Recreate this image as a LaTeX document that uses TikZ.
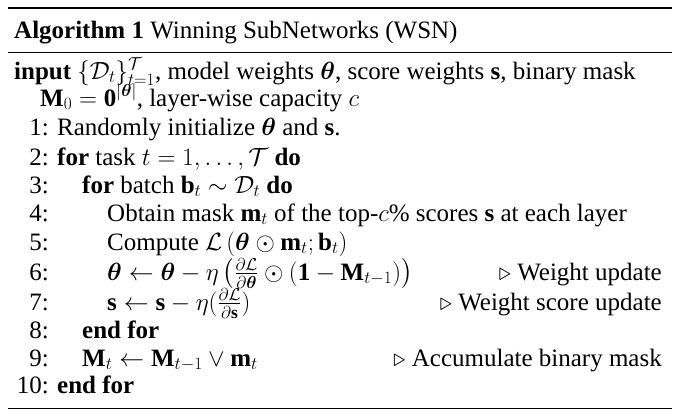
\documentclass[tikz,border=0pt]{standalone}
\usepackage{amsmath,amssymb,bm}
\usepackage{fontspec}
\setmainfont{Liberation Serif}
\begin{document}
\begin{tikzpicture}[x=1pt,y=-1pt,
  t/.style={anchor=base west,inner sep=0pt,font=\fontsize{25}{28}\selectfont},
  n/.style={anchor=base east,inner sep=0pt,font=\fontsize{25}{28}\selectfont},
  c/.style={anchor=base east,inner sep=0pt,font=\fontsize{25}{28}\selectfont}]
\useasboundingbox (0,0) rectangle (680,418);
\draw[line width=1.6] (8,8) -- (672,8);
\draw[line width=0.8] (8,52) -- (672,52);
\draw[line width=0.8] (8,408) -- (672,408);
\node[t] (title) at (14,38) {\textbf{Algorithm 1} Winning SubNetworks (WSN)};
\node[t] (in) at (14,79) {\textbf{input} $\{\mathcal{D}_t\}_{t=1}^{\mathcal{T}}$, model weights $\bm{\theta}$, score weights $\mathbf{s}$, binary mask};
\node[t] (in2) at (40,106) {$\mathbf{M}_0=\mathbf{0}^{|\bm{\theta}|}$, layer-wise capacity $c$};
\foreach \i/\y in {1/135,2/165,3/193,4/221,5/250,6/280,7/310,8/338,9/366,10/393}
  \node[n] (n\i) at (49,\y) {\i:};
\node[t] (l1) at (57,135) {Randomly initialize $\bm{\theta}$ and $\mathbf{s}$.};
\node[t] (l2) at (57,165) {\textbf{for} task $t=1,\ldots,\mathcal{T}$ \textbf{do}};
\node[t] (l3) at (82,193) {\textbf{for} batch $\mathbf{b}_t\sim\mathcal{D}_t$ \textbf{do}};
\node[t] (l4) at (107,221) {Obtain mask $\mathbf{m}_t$ of the top-$c\%$ scores $\mathbf{s}$ at each layer};
\node[t] (l5) at (107,250) {Compute $\mathcal{L}\left(\bm{\theta}\odot\mathbf{m}_t;\mathbf{b}_t\right)$};
\node[t] (l6) at (107,280) {$\bm{\theta}\leftarrow\bm{\theta}-\eta\left(\frac{\partial\mathcal{L}}{\partial\bm{\theta}}\odot(\mathbf{1}-\mathbf{M}_{t-1})\right)$};
\node[c] (c6) at (662,280) {$\triangleright$ Weight update};
\node[t] (l7) at (107,310) {$\mathbf{s}\leftarrow\mathbf{s}-\eta(\frac{\partial\mathcal{L}}{\partial\mathbf{s}})$};
\node[c] (c7) at (662,310) {$\triangleright$ Weight score update};
\node[t] (l8) at (82,338) {\textbf{end for}};
\node[t] (l9) at (82,366) {$\mathbf{M}_t\leftarrow\mathbf{M}_{t-1}\vee\mathbf{m}_t$};
\node[c] (c9) at (662,366) {$\triangleright$ Accumulate binary mask};
\node[t] (l10) at (57,393) {\textbf{end for}};
\end{tikzpicture}
\end{document}
